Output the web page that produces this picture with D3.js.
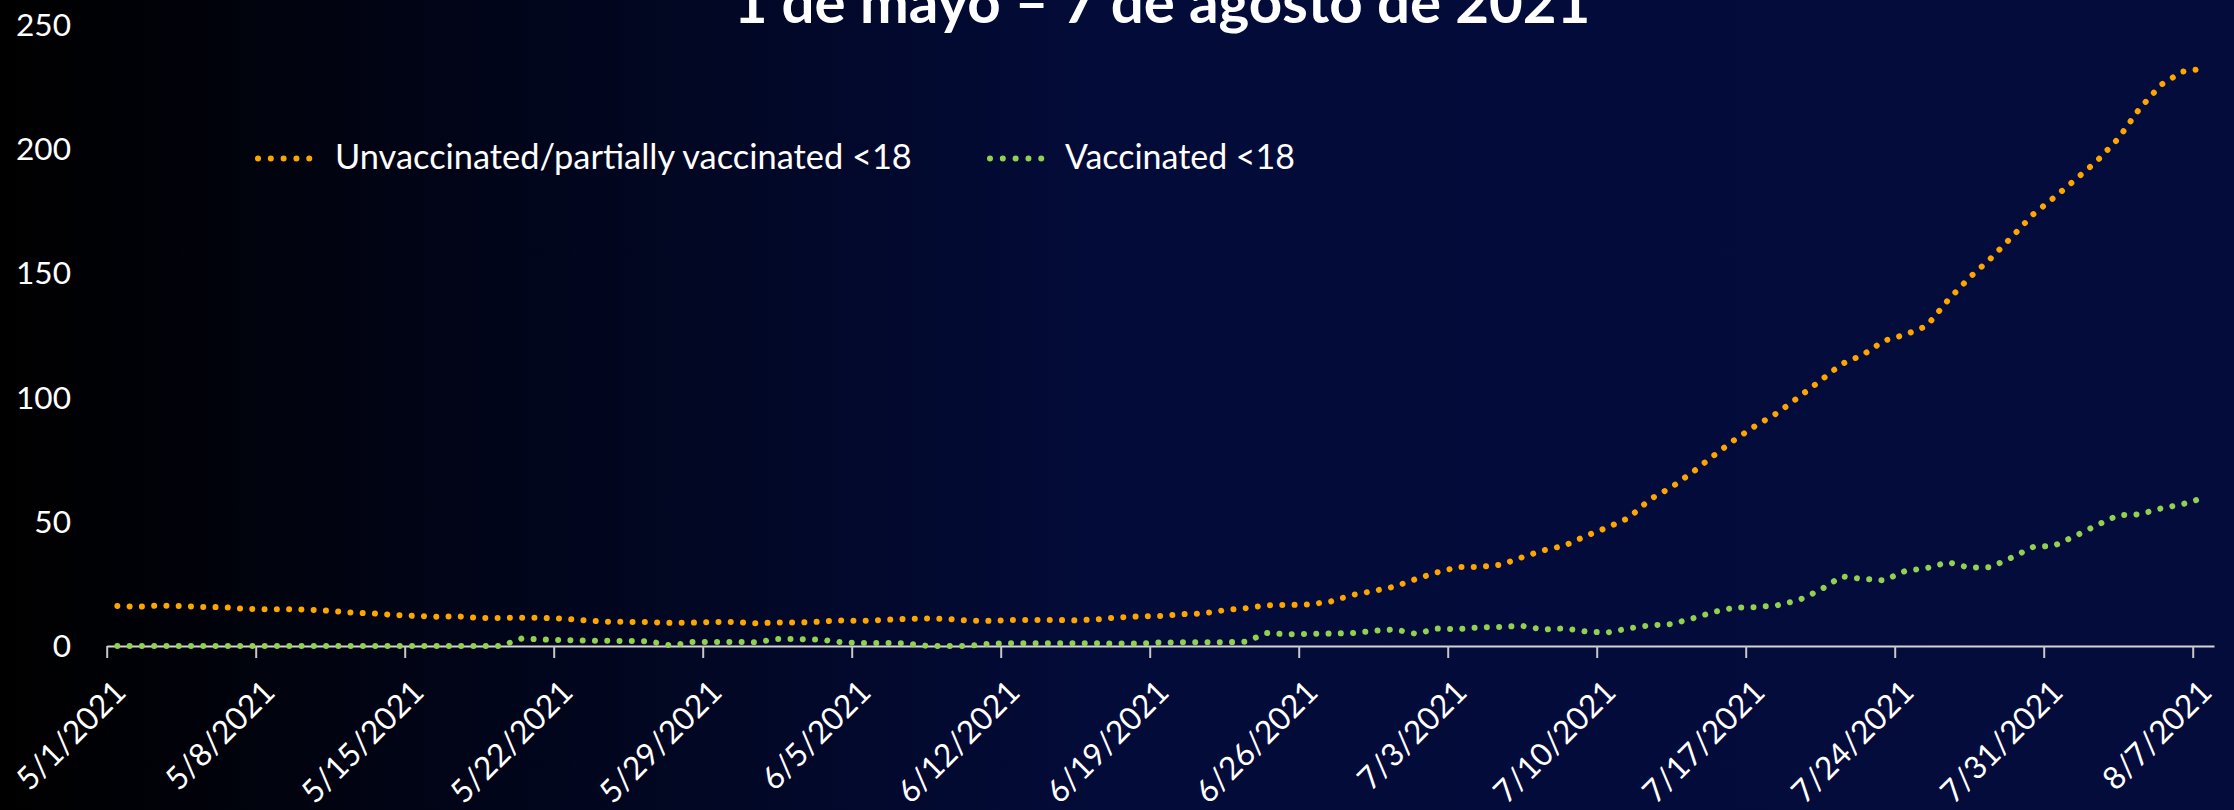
<!DOCTYPE html>
<html><head><meta charset="utf-8">
<script src="https://cdn.jsdelivr.net/npm/d3@7/dist/d3.min.js"></script>
<style>html,body{margin:0;padding:0;background:#000;} svg{display:block;}</style>
</head><body>
<svg id="chart" width="2234" height="810"></svg>
<script>
// ---------------- data ----------------
const chartTitle = "1 de mayo – 7 de agosto de 2021";
const seriesNames = ["Unvaccinated/partially vaccinated <18", "Vaccinated <18"];
const startDate = "2021-05-01";
const unvaccinated = [
  16.1, 15.8, 16.3, 16.1, 15.7, 15.6, 14.9, 14.8, 14.8, 14.6,
  14.2, 13.4, 13.1, 12.5, 12.1, 11.8, 11.9, 11.3, 11.3, 11.4,
  11.3, 11.0, 10.3, 9.8, 9.7, 9.6, 9.3, 9.4, 9.6, 9.7,
  9.1, 9.5, 9.4, 9.8, 10.3, 10.1, 10.5, 10.9, 11.1, 10.9,
  10.2, 10.1, 10.5, 10.5, 10.5, 10.3, 10.7, 11.5, 11.9, 12.1,
  12.8, 13.1, 14.4, 15.2, 16.4, 16.5, 16.7, 17.9, 20.5, 22.1,
  23.9, 26.9, 29.6, 31.8, 31.8, 32.7, 35.7, 38.5, 40.4, 44.3,
  47.7, 51.5, 59.0, 63.8, 69.9, 76.6, 83.1, 88.8, 93.8, 100.2,
  106.7, 113.4, 117.1, 122.8, 125.3, 128.7, 139.1, 148.1, 155.8, 164.5,
  173.6, 180.5, 187.7, 195.1, 204.1, 216.1, 225.7, 231.0, 232.3
];
const vaccinated = [
  0, 0, 0, 0, 0, 0, 0, 0, 0, 0,
  0, 0, 0, 0, 0, 0, 0, 0, 0, 3.0,
  2.6, 2.4, 2.2, 2.1, 2.0, 1.9, 0.2, 1.6, 1.6, 1.6,
  1.5, 2.8, 2.8, 2.6, 1.5, 1.2, 1.2, 1.1, 0.1, 0,
  0, 1.0, 1.1, 1.1, 1.1, 1.1, 1.1, 1.0, 1.0, 1.4,
  1.5, 1.5, 1.5, 1.7, 5.2, 4.7, 4.9, 5.0, 5.2, 6.1,
  6.7, 4.9, 7.0, 6.8, 7.5, 7.7, 8.1, 6.6, 7.1, 5.8,
  5.4, 7.1, 8.3, 8.8, 11.1, 13.7, 15.5, 15.6, 16.4, 18.5,
  22.5, 28.0, 27.0, 26.4, 30.2, 31.3, 33.7, 31.5, 31.7, 35.6,
  39.8, 40.4, 44.3, 48.6, 52.6, 53.0, 55.3, 57.0, 59.6
];
const xTickLabels = ["5/1/2021","5/8/2021","5/15/2021","5/22/2021","5/29/2021","6/5/2021","6/12/2021",
  "6/19/2021","6/26/2021","7/3/2021","7/10/2021","7/17/2021","7/24/2021","7/31/2021","8/7/2021"];
const yTicks = [0, 50, 100, 150, 200, 250];
const colors = ["#FFA500", "#92D050"];

// ---------------- layout ----------------
const W = 2234, H = 810;
const font = "Lato, 'Open Sans', sans-serif";
const svg = d3.select("#chart");

const defs = svg.append("defs");
const grad = defs.append("linearGradient").attr("id", "bg").attr("x1", "0").attr("x2", "1").attr("y1", "0").attr("y2", "0");
grad.append("stop").attr("offset", "0%").attr("stop-color", "#000000");
grad.append("stop").attr("offset", "50%").attr("stop-color", "#030b39");
grad.append("stop").attr("offset", "100%").attr("stop-color", "#040c3c");
svg.append("rect").attr("width", W).attr("height", H).attr("fill", "url(#bg)");

const t0 = d3.utcParse("%Y-%m-%d")(startDate);
const nDays = unvaccinated.length;
const x = d3.scaleUtc().domain([t0, d3.utcDay.offset(t0, nDays)]).range([106.7, 2214]);
const y = d3.scaleLinear().domain([0, 250]).range([646, 24.5]);

const dayCenter = i => d3.utcHour.offset(d3.utcDay.offset(t0, i), 12);

// x axis
const tickDates = xTickLabels.map((_, k) => d3.utcDay.offset(t0, 7 * k));
const xAxis = d3.axisBottom(x).tickValues(tickDates).tickSize(12).tickSizeOuter(0).tickFormat("");
const gx = svg.append("g").attr("transform", "translate(0,646)").call(xAxis);
gx.select(".domain").attr("stroke", "#d4d4d4").attr("stroke-width", 2.2);
gx.selectAll(".tick line").attr("stroke", "#c8c8c8").attr("stroke-width", 2);

// y labels (no axis line)
const yLab = svg.append("g");
const yl = yLab.selectAll("text").data(yTicks).join("text")
  .attr("x", 71).attr("y", d => y(d)).attr("dy", "0.36em")
  .attr("text-anchor", "end").attr("fill", "#ffffff")
  .attr("font-family", font).attr("font-size", 32).text(d => d);
const w250 = yl.filter(d => d === 250).node().getComputedTextLength();
const axisFs = 32 * 55 / w250;
yl.attr("font-size", axisFs);

// x labels rotated
svg.append("g").selectAll("text").data(tickDates).join("text")
  .attr("transform", d => `translate(${x(d) + 21},694) rotate(-45)`)
  .attr("text-anchor", "end").attr("fill", "#ffffff")
  .attr("font-family", font).attr("font-size", axisFs)
  .text((d, i) => xTickLabels[i]);

// lines
const line = d3.line().x((d, i) => x(dayCenter(i))).y(d => y(d)).curve(d3.curveLinear);
[unvaccinated, vaccinated].forEach((s, k) => {
  svg.append("path").datum(s).attr("d", line)
    .attr("fill", "none").attr("stroke", colors[k]).attr("stroke-width", 6)
    .attr("stroke-linecap", "round").attr("stroke-dasharray", "0.01 12.27");
});

// legend
const legendPos = [{x1: 258, x2: 322, tx: 335, tw: 577}, {x1: 990, x2: 1054, tx: 1065, tw: 230}];
seriesNames.forEach((name, k) => {
  const p = legendPos[k];
  svg.append("line").attr("x1", p.x1).attr("x2", p.x2).attr("y1", 158.5).attr("y2", 158.5)
    .attr("stroke", colors[k]).attr("stroke-width", 6)
    .attr("stroke-linecap", "round").attr("stroke-dasharray", "0.01 12.8");
  const t = svg.append("text").attr("x", p.tx).attr("y", 168.5)
    .attr("fill", "#ffffff").attr("font-family", font).attr("font-size", 32).text(name);
  const w = t.node().getComputedTextLength();
  t.attr("font-size", 32 * p.tw / w);
});

// title (top clipped as in the reference)
const tt = svg.append("text").attr("x", 1162).attr("y", 22.7).attr("text-anchor", "middle")
  .attr("fill", "#ffffff").attr("font-family", font).attr("font-weight", "bold")
  .attr("font-size", 48).text(chartTitle);
const tw = tt.node().getComputedTextLength();
tt.attr("font-size", 48 * 857 / tw);
</script>
</body></html>
